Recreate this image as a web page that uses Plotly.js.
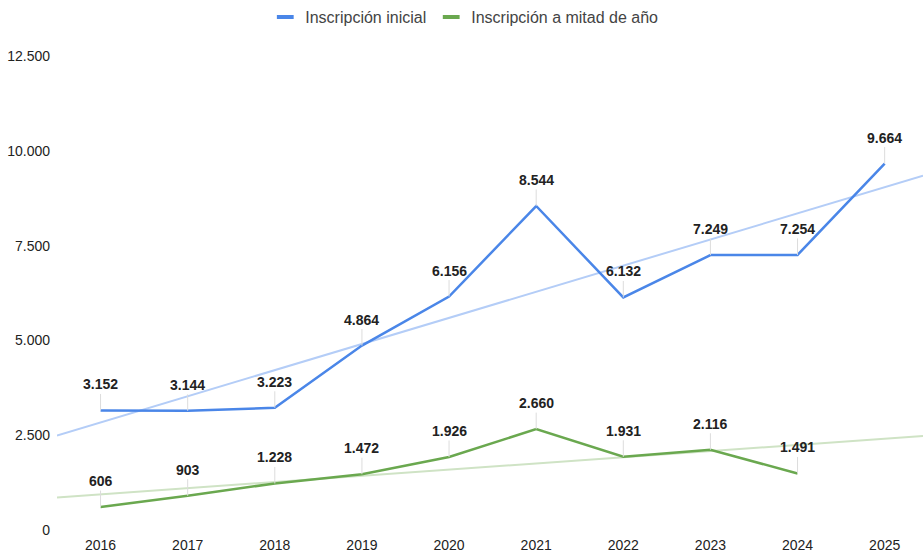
<!DOCTYPE html>
<html>
<head>
<meta charset="utf-8">
<script src="https://cdn.plot.ly/plotly-3.0.1.min.js"></script>
<style>
  html, body { margin: 0; padding: 0; background: #ffffff; }
  #chart { width: 923px; height: 552px; }
</style>
</head>
<body>
<div id="chart"></div>
<script>
// ---- Data ----
const years = [2016, 2017, 2018, 2019, 2020, 2021, 2022, 2023, 2024, 2025];
const inicialName = 'Inscripción inicial';
const mitadName = 'Inscripción a mitad de año';
const inicial = [3152, 3144, 3223, 4864, 6156, 8544, 6132, 7249, 7254, 9664];
const mitadYears = [2016, 2017, 2018, 2019, 2020, 2021, 2022, 2023, 2024];
const mitad = [606, 903, 1228, 1472, 1926, 2660, 1931, 2116, 1491];
const yTicks = [0, 2500, 5000, 7500, 10000, 12500];

// ---- Styling ----
const blue = '#4a86e8';
const green = '#6aa84f';
const blueTrend = '#b4cdf7';
const greenTrend = '#cfe3c5';
const xRange = [2015.5, 2025.44];

function fmt(v) {
  return String(v).replace(/\B(?=(\d{3})+(?!\d))/g, '.');
}

// least-squares trendline across the full axis range
function trend(xs, ys) {
  const n = xs.length;
  const mx = xs.reduce((a, b) => a + b, 0) / n;
  const my = ys.reduce((a, b) => a + b, 0) / n;
  let sxy = 0, sxx = 0;
  for (let i = 0; i < n; i++) { sxy += (xs[i] - mx) * (ys[i] - my); sxx += (xs[i] - mx) ** 2; }
  const m = sxy / sxx;
  return { x: xRange.slice(), y: xRange.map(x => my + m * (x - mx)) };
}

const tb = trend(years, inicial);
const tg = trend(mitadYears, mitad);

const traces = [
  { x: tb.x, y: tb.y, mode: 'lines', line: { color: blueTrend, width: 2 }, showlegend: false, hoverinfo: 'skip' },
  { x: tg.x, y: tg.y, mode: 'lines', line: { color: greenTrend, width: 2 }, showlegend: false, hoverinfo: 'skip' },
  { x: years, y: inicial, mode: 'lines', line: { color: blue, width: 2.5 }, showlegend: false, name: inicialName },
  { x: mitadYears, y: mitad, mode: 'lines', line: { color: green, width: 2.5 }, showlegend: false, name: mitadName },
  // legend entries
  { x: [null], y: [null], mode: 'markers', name: inicialName,
    marker: { symbol: 'line-ew-open', size: 12, color: blue, line: { width: 4, color: blue } } },
  { x: [null], y: [null], mode: 'markers', name: mitadName,
    marker: { symbol: 'line-ew-open', size: 12, color: green, line: { width: 4, color: green } } }
];

function labels(xs, ys) {
  return xs.map((x, i) => ({
    x: x, y: ys[i], xref: 'x', yref: 'y',
    text: fmt(ys[i]),
    showarrow: true, arrowhead: 0, arrowwidth: 1, arrowcolor: '#dcdcdc',
    ax: 0, ay: -26, standoff: 0, startstandoff: 0,
    font: { family: 'Liberation Sans, Arial, sans-serif', size: 14, color: '#222222', weight: 'bold' }
  }));
}

const layout = {
  width: 923, height: 552,
  margin: { l: 57, r: 0, t: 56, b: 22 },
  paper_bgcolor: '#ffffff', plot_bgcolor: '#ffffff',
  font: { family: 'Liberation Sans, Arial, sans-serif', size: 14, color: '#222222' },
  showlegend: true,
  legend: {
    orientation: 'h', xref: 'container', yref: 'container',
    x: 0.503, xanchor: 'center', y: 0.969, yanchor: 'middle',
    font: { size: 16, color: '#444444' }, itemwidth: 30
  },
  xaxis: {
    range: xRange, tickvals: years, ticktext: years.map(String),
    showgrid: false, zeroline: false, showline: false, ticks: '',
    ticklabelstandoff: 5,
    tickfont: { size: 14, color: '#222222' }
  },
  yaxis: {
    range: [0, 12500], tickvals: yTicks, ticktext: yTicks.map(fmt),
    showgrid: false, zeroline: false, showline: false, ticks: '',
    ticklabelstandoff: 6,
    tickfont: { size: 14, color: '#222222' }
  },
  annotations: labels(years, inicial).concat(labels(mitadYears, mitad))
};

Plotly.newPlot('chart', traces, layout, { displayModeBar: false, staticPlot: true });
</script>
</body>
</html>
